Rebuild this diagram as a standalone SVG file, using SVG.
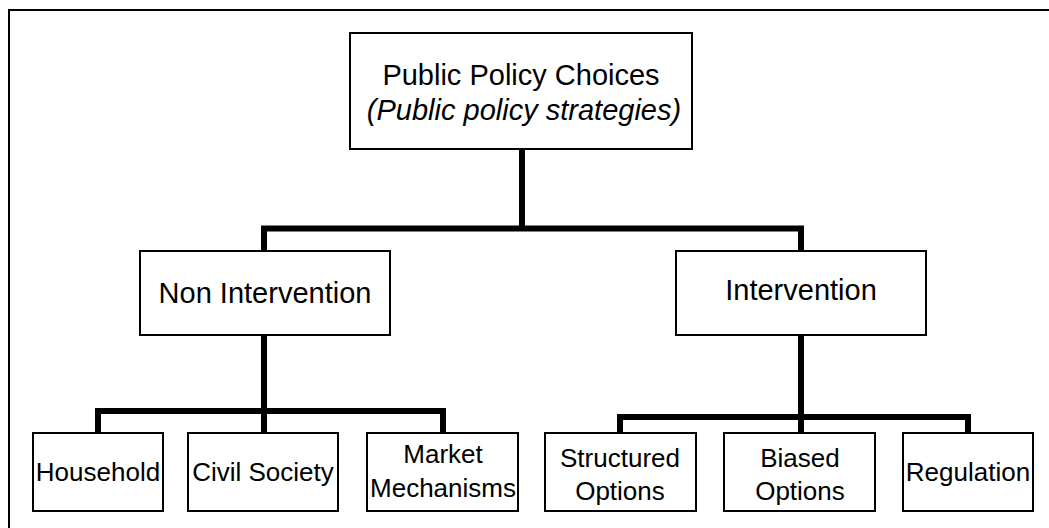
<svg xmlns="http://www.w3.org/2000/svg" width="1049" height="528" viewBox="0 0 1049 528">
<style>
.box{fill:#fff;stroke:#000;stroke-width:2}
.t{font-family:"Liberation Sans",Arial,sans-serif;fill:#000;text-anchor:middle}
.big{font-size:29px}
.sm{font-size:26px}
.conn{fill:none;stroke:#000;stroke-width:6;stroke-linecap:square;stroke-linejoin:miter}
</style>
<rect width="1049" height="528" fill="#fff"/>
<path d="M9,528 V10 H1049" fill="none" stroke="#000" stroke-width="2"/>
<g id="connectors">
<path class="conn" d="M522,150 V228.5 M264,250 V228.5 H801 V250"/>
<path class="conn" d="M264,335 V433 M98,433 V411 H443 V433"/>
<path class="conn" d="M801,335 V433 M620,433 V417 H968 V433"/>
</g>
<g id="root"><rect class="box" x="350" y="33" width="342" height="116"/>
<text class="t big" x="521" y="85">Public Policy Choices</text>
<text class="t big" x="524" y="120" font-style="italic">(Public policy strategies)</text></g>
<g id="nonint"><rect class="box" x="140" y="251" width="250" height="84"/>
<text class="t big" x="265" y="303">Non Intervention</text></g>
<g id="int"><rect class="box" x="676" y="251" width="250" height="84"/>
<text class="t big" x="801" y="300">Intervention</text></g>
<g id="household"><rect class="box" x="33" y="433" width="130" height="78"/>
<text class="t sm" x="98" y="481">Household</text></g>
<g id="civil"><rect class="box" x="188" y="433" width="150" height="78"/>
<text class="t sm" x="263" y="481">Civil Society</text></g>
<g id="market"><rect class="box" x="367" y="433" width="151" height="78"/>
<text class="t sm" x="443" y="463">Market</text>
<text class="t sm" x="443" y="497">Mechanisms</text></g>
<g id="structured"><rect class="box" x="545" y="433" width="151" height="78"/>
<text class="t sm" x="620" y="467">Structured</text>
<text class="t sm" x="620" y="500">Options</text></g>
<g id="biased"><rect class="box" x="724" y="433" width="151" height="78"/>
<text class="t sm" x="800" y="467">Biased</text>
<text class="t sm" x="800" y="500">Options</text></g>
<g id="regulation"><rect class="box" x="903" y="433" width="130" height="78"/>
<text class="t sm" x="968" y="481">Regulation</text></g>
</svg>
